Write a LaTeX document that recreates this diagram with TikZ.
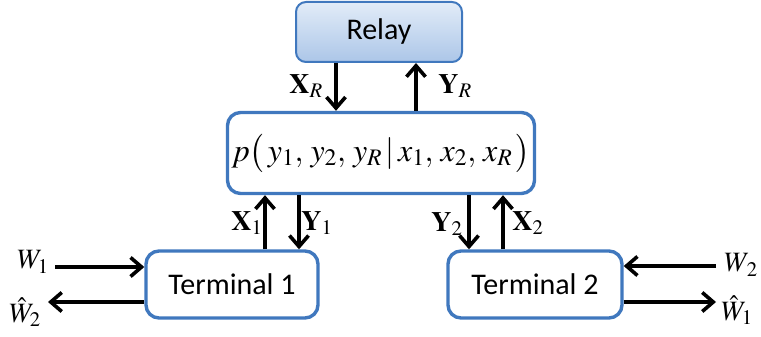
\documentclass[tikz,border=0pt]{standalone}
\usepackage{amsmath}
\usepackage{mathptmx}
\usepackage{fontspec}
\usepackage{tikz}
\usetikzlibrary{arrows.meta,positioning,calc}
\newfontfamily\boxfont{Carlito}
\definecolor{BoxBlue}{RGB}{64,120,190}
\definecolor{RelayTop}{RGB}{226,236,248}
\definecolor{RelayBot}{RGB}{172,198,232}

\begin{document}
\begin{tikzpicture}[x=1pt,y=-1pt,
    blk/.style={draw=BoxBlue,line width=3.4pt,rounded corners=13pt,fill=white,
               font=\boxfont\fontsize{30}{34}\selectfont,inner sep=0pt},
    relaybox/.style={blk,rounded corners=10pt,line width=2pt,
               top color=RelayTop,bottom color=RelayBot},
    arr/.style={-{Straight Barb[length=11pt,width=19pt]},line width=3.6pt},
    lbl/.style={font=\fontsize{28}{32}\selectfont,inner sep=0pt}
  ]
    \useasboundingbox (0,0) rectangle (761,337);
    % boxes
    \node[relaybox,minimum width=166pt,minimum height=60pt] (relay) at (379,32) {Relay};
    \node[blk,minimum width=307pt,minimum height=81pt] (chan) at (381,153)
      {\fontsize{32}{36}\selectfont$p\big(\,y_1,\, y_2,\, y_R \,|\, x_1,\, x_2,\, x_R\,\big)$};
    \node[blk,minimum width=172pt,minimum height=67pt] (t1) at (232,284.5) {Terminal 1};
    \node[blk,minimum width=174pt,minimum height=67pt] (t2) at (535,284.5) {Terminal 2};
    % relay <-> channel
    \draw[arr] ([xshift=-43pt]relay.south) coordinate (xr) -- (xr |- chan.north);
    \draw[arr] ([xshift=35pt]chan.north) coordinate (yr) -- (yr |- relay.south);
    \node[lbl] (lxr) at (306,86) {$\mathbf{X}_R$};
    \node[lbl] (lyr) at (455,86) {$\mathbf{Y}_R$};
    % terminals <-> channel
    \draw[arr] ([xshift=33pt]t1.north) coordinate (x1) -- (x1 |- chan.south);
    \draw[arr] ([xshift=67pt]t1.north) coordinate (y1) ++(0,0) (y1 |- chan.south) -- (y1);
    \draw[arr] ([xshift=-66pt]t2.north) coordinate (y2) ++(0,0) (y2 |- chan.south) -- (y2);
    \draw[arr] ([xshift=-32pt]t2.north) coordinate (x2) -- (x2 |- chan.south);
    \node[lbl] (lx1) at (247,223) {$\mathbf{X}_1$};
    \node[lbl] (ly1) at (317,223) {$\mathbf{Y}_1$};
    \node[lbl] (ly2) at (447,224) {$\mathbf{Y}_2$};
    \node[lbl] (lx2) at (528,223) {$\mathbf{X}_2$};
    % messages
    \coordinate (w1) at (55,267);
    \coordinate (w2h) at (48,302);
    \coordinate (w2) at (716,266);
    \coordinate (w1h) at (716,302);
    \draw[arr] (w1) -- (w1 -| t1.west);
    \draw[arr] (w2h -| t1.west) -- (w2h);
    \draw[arr] (w2) -- (w2 -| t2.east);
    \draw[arr] (w1h -| t2.east) -- (w1h);
    \node[lbl] (lw1) at (33,262) {$W_1$};
    \node[lbl] (lw2h) at (25,312) {$\hat{W}_2$};
    \node[lbl] (lw2) at (741,265) {$W_{\,2}$};
    \node[lbl] (lw1h) at (737,310) {$\hat{W}_1$};
  \end{tikzpicture}
\end{document}
